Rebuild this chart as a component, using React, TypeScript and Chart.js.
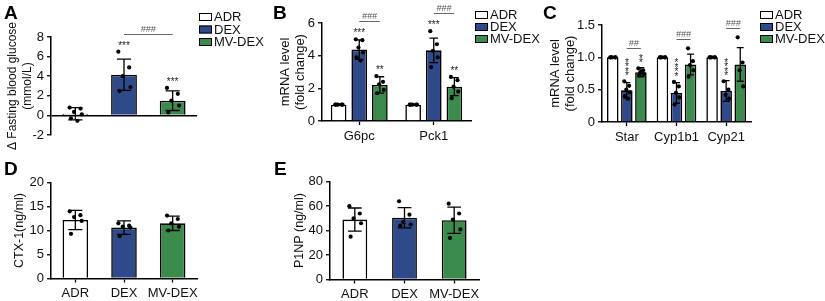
import React, { useEffect, useRef } from 'react';
import { Chart, registerables } from 'chart.js';

Chart.register(...registerables);

const FONT = "'Liberation Sans', Arial, Helvetica, sans-serif";
Chart.defaults.font.family = FONT;
Chart.defaults.font.size = 13;
Chart.defaults.color = '#111';

// ---------- shared series ----------
const groupNames = ['ADR', 'DEX', 'MV-DEX'];
const groupColors = ['#FFFFFF', '#2F4A8A', '#3B8B4C'];

// ---------- Panel A: fasting blood glucose ----------
const labelsA = ['ADR', 'DEX', 'MV-DEX'];
const meanA = [0.17, 4.15, 1.5];
const sdA = [0.63, 1.6, 1.0];
const pointsA = [
  [0.8, 0.7, 0.35, 0.1, -0.3, -0.55],
  [6.5, 4.9, 4.0, 2.9, 2.5],
  [2.8, 2.2, 1.5, 1.0, 0.3],
];
const starsA = ['', '***', '***'];
const hashA = ['###'];

// ---------- Panel B: liver mRNA ----------
const genesB = ['G6pc', 'Pck1'];
const adrMeanB = [1, 1];
const adrSdB = [0.03, 0.03];
const adrPointsB = [[1, 1, 1, 1, 1], [1, 1, 1, 1, 1]];
const dexMeanB = [4.37, 4.33];
const dexSdB = [0.6, 0.75];
const dexPointsB = [[5.0, 4.95, 4.5, 4.2, 3.9, 3.7], [5.5, 4.7, 4.3, 3.9, 3.3]];
const mvMeanB = [2.21, 2.1];
const mvSdB = [0.5, 0.55];
const mvPointsB = [[2.75, 2.4, 2.25, 1.9, 1.7], [2.7, 2.5, 2.1, 1.8, 1.4]];
const dexStarsB = ['***', '***'];
const mvStarsB = ['**', '**'];
const hashB = ['###', '###'];

// ---------- Panel C: adrenal mRNA ----------
const genesC = ['Star', 'Cyp1b1', 'Cyp21'];
const adrMeanC = [1, 1, 1];
const adrSdC = [0.01, 0.01, 0.01];
const adrPointsC = [[1, 1, 1, 1, 1], [1, 1, 1, 1, 1], [1, 1, 1, 1, 1]];
const dexMeanC = [0.49, 0.45, 0.48];
const dexSdC = [0.12, 0.16, 0.16];
const dexPointsC = [
  [0.63, 0.56, 0.5, 0.46, 0.4, 0.36],
  [0.62, 0.55, 0.45, 0.38, 0.27],
  [0.63, 0.5, 0.42, 0.36],
];
const mvMeanC = [0.77, 0.89, 0.89];
const mvSdC = [0.07, 0.16, 0.26];
const mvPointsC = [
  [0.83, 0.8, 0.77, 0.74, 0.72],
  [1.14, 0.94, 0.88, 0.8, 0.7],
  [1.31, 0.92, 0.8, 0.55],
];
const dexStarsC = ['****', '****', '****'];
const mvStarsC = ['**', '', ''];
const hashC = ['##', '###', '###'];

// ---------- Panel D: CTX-1 ----------
const labelsD = ['ADR', 'DEX', 'MV-DEX'];
const meanD = [12.2, 10.6, 11.5];
const sdD = [2.0, 1.4, 1.5];
const pointsD = [
  [14.0, 13.2, 12.8, 12.0, 9.3],
  [11.5, 11.0, 10.8, 10.6, 8.8],
  [13.1, 12.4, 11.5, 10.8, 10.0],
];

// ---------- Panel E: P1NP ----------
const labelsE = ['ADR', 'DEX', 'MV-DEX'];
const meanE = [49, 50.5, 48.5];
const sdE = [9.5, 8.3, 10.7];
const pointsE = [
  [60, 54, 50, 46, 35],
  [64, 53, 47, 45, 44],
  [62, 54, 49, 41, 34],
];

const JITTER = [-0.22, 0.2, -0.05, 0.25, -0.17, 0.08];

const overlayPlugin: any = {
  id: 'overlay',
  afterDatasetsDraw(chart: any, _a: any, o: any) {
    const ctx = chart.ctx;
    const ys = chart.scales.y;
    const info: any[][] = [];
    chart.data.datasets.forEach((ds: any, di: number) => {
      const meta = chart.getDatasetMeta(di);
      info[di] = [];
      meta.data.forEach((el: any, j: number) => {
        const x = el.x;
        const w = el.width;
        const m = ds.data[j];
        const sd = ds.errors[j];
        const yt = ys.getPixelForValue(m + sd);
        const yb = ys.getPixelForValue(m - sd);
        const cap = (w * o.capRatio) / 2;
        ctx.save();
        ctx.strokeStyle = '#000';
        ctx.lineWidth = o.errWidth;
        ctx.beginPath();
        ctx.moveTo(x, yt);
        ctx.lineTo(x, yb);
        ctx.moveTo(x - cap, yt);
        ctx.lineTo(x + cap, yt);
        ctx.moveTo(x - cap, yb);
        ctx.lineTo(x + cap, yb);
        ctx.stroke();
        let top = yt;
        ctx.fillStyle = '#000';
        (ds.points[j] || []).forEach((p: number, k: number) => {
          const py = ys.getPixelForValue(p);
          const px = x + JITTER[k % JITTER.length] * w;
          ctx.beginPath();
          ctx.arc(px, py, o.dotR, 0, Math.PI * 2);
          ctx.fill();
          top = Math.min(top, py - o.dotR);
        });
        let markTop = top;
        const s = ds.stars ? ds.stars[j] : '';
        if (s) {
          ctx.font = `${o.starSize}px ${FONT}`;
          ctx.textAlign = 'center';
          ctx.textBaseline = 'middle';
          ctx.fillStyle = '#222';
          if (o.verticalStars) {
            for (let k = 0; k < s.length; k++) {
              const cy = top - o.starGap - k * o.starStep;
              ctx.fillText('*', x, cy + o.starSize * 0.22);
              markTop = cy - 2;
            }
          } else {
            const cy = top - o.starGap;
            ctx.fillText(s, x, cy + o.starSize * 0.22);
            markTop = cy - 2;
          }
        }
        ctx.restore();
        info[di][j] = { x, top: markTop };
      });
    });
    (o.brackets || []).forEach((b: any) => {
      const A = info[b.a[0]][b.a[1]];
      const B = info[b.b[0]][b.b[1]];
      const ly = Math.round(Math.min(A.top, B.top) - o.bracketGap) + 0.5;
      ctx.save();
      ctx.strokeStyle = '#666';
      ctx.lineWidth = 1;
      ctx.beginPath();
      ctx.moveTo(A.x, ly);
      ctx.lineTo(B.x, ly);
      ctx.stroke();
      ctx.fillStyle = '#555';
      ctx.font = `italic ${o.hashSize}px ${FONT}`;
      ctx.textAlign = 'center';
      ctx.textBaseline = 'alphabetic';
      ctx.fillText(b.text, (A.x + B.x) / 2, ly - 2.5);
      ctx.restore();
    });
  },
  afterDraw(chart: any, _a: any, o: any) {
    const ctx = chart.ctx;
    ctx.save();
    if (o.letter) {
      ctx.font = `bold 19px ${FONT}`;
      ctx.fillStyle = '#000';
      ctx.textAlign = 'left';
      ctx.textBaseline = 'alphabetic';
      ctx.fillText(o.letter.text, o.letter.x, o.letter.y);
    }
    if (o.legend) {
      const L = o.legend;
      groupNames.forEach((name, i) => {
        const cy = L.y0 + i * L.dy;
        ctx.fillStyle = groupColors[i];
        ctx.fillRect(L.x, cy - 4, 13, 8);
        ctx.strokeStyle = '#000';
        ctx.lineWidth = 1;
        ctx.strokeRect(L.x + 0.5, cy - 3.5, 12, 7);
        ctx.fillStyle = '#111';
        ctx.font = `13px ${FONT}`;
        ctx.textAlign = 'left';
        ctx.textBaseline = 'middle';
        ctx.fillText(name, L.x + 15, cy + 0.5);
      });
    }
    ctx.restore();
  },
};

type Spec = {
  left: number; top: number; w: number; h: number;
  area: { left: number; right: number; top: number; bottom: number };
  yMin: number; yMax: number; yStep: number;
  yTitle: string[]; titleX: number; titleSize: number;
  xDisplay: boolean; xH: number; xPad: number;
  zeroLine: boolean;
  catPct: number; barPct: number;
  labels: string[];
  datasets: any[];
  tickFmt?: (v: number) => string;
  overlay: any;
};

function buildConfig(s: Spec): any {
  const lh = s.titleSize * 1.2;
  return {
    type: 'bar',
    data: { labels: s.labels, datasets: s.datasets },
    plugins: [overlayPlugin],
    options: {
      responsive: false,
      animation: false,
      devicePixelRatio: 1,
      events: [],
      layout: {
        padding: {
          left: 0,
          top: s.area.top,
          right: s.w - s.area.right,
          bottom: s.h - s.area.bottom - (s.xDisplay ? s.xH : 0),
        },
      },
      datasets: { bar: { categoryPercentage: s.catPct, barPercentage: s.barPct } },
      plugins: { legend: { display: false }, tooltip: { enabled: false }, overlay: s.overlay },
      scales: {
        x: {
          type: 'category',
          display: s.xDisplay,
          offset: true,
          grid: { display: true, offset: false, drawOnChartArea: false, drawTicks: true, tickLength: 4, tickColor: '#000', tickWidth: 1.3 },
          border: { display: true, color: '#000', width: 1.5 },
          ticks: { padding: s.xPad, color: '#111', font: { size: 13 }, maxRotation: 0, autoSkip: false },
          afterFit: (sc: any) => { sc.height = s.xH; },
        },
        y: {
          min: s.yMin,
          max: s.yMax,
          ticks: {
            stepSize: s.yStep,
            padding: 3,
            color: '#111',
            font: { size: 13 },
            callback: (v: any) => (s.tickFmt ? s.tickFmt(Number(v)) : String(v)),
          },
          grid: {
            drawOnChartArea: s.zeroLine,
            color: (c: any) => (c.tick && c.tick.value === 0 ? '#000' : 'rgba(0,0,0,0)'),
            lineWidth: 1.5,
            tickLength: 4,
            tickColor: '#000',
            tickWidth: 1.3,
          },
          border: { display: true, color: '#000', width: 1.5 },
          title: {
            display: true,
            text: s.yTitle,
            color: '#111',
            font: { size: s.titleSize, lineHeight: 1.2 },
            padding: { top: s.titleX - lh / 2, bottom: 0 },
          },
          afterFit: (sc: any) => { sc.width = s.area.left; },
        },
      },
    },
  };
}

const common = { capRatio: 0.55, errWidth: 1.3, dotR: 2.1, starSize: 10, starGap: 6, starStep: 4.5, bracketGap: 8, hashSize: 9 };

const singleDataset = (means: number[], sds: number[], pts: number[][], stars?: string[]) => ({
  data: means,
  errors: sds,
  points: pts,
  stars,
  backgroundColor: groupColors,
  borderColor: '#000',
  borderWidth: 1.6,
});

const groupedDatasets = (
  means: number[][], sds: number[][], pts: number[][][], stars: (string[] | undefined)[]
) => groupNames.map((name, i) => ({
  label: name,
  data: means[i],
  errors: sds[i],
  points: pts[i],
  stars: stars[i],
  backgroundColor: groupColors[i],
  borderColor: '#000',
  borderWidth: 1.6,
}));

const specs: Spec[] = [
  {
    left: 0, top: 0, w: 270, h: 150,
    area: { left: 51, right: 197, top: 37, bottom: 135 },
    yMin: -2, yMax: 8, yStep: 2,
    yTitle: ['\u0394 Fasting blood glucose', '(mmol/L)'], titleX: 13, titleSize: 12,
    xDisplay: false, xH: 0, xPad: 3, zeroLine: true,
    catPct: 1, barPct: 0.53,
    labels: labelsA,
    datasets: [singleDataset(meanA, sdA, pointsA, starsA)],
    overlay: {
      ...common,
      brackets: hashA.map((t) => ({ a: [0, 1], b: [0, 2], text: t })),
      letter: { text: 'A', x: 4, y: 19 },
      legend: { x: 199, y0: 17, dy: 12.5 },
    },
  },
  {
    left: 270, top: 0, w: 270, h: 150,
    area: { left: 52, right: 201, top: 23, bottom: 121 },
    yMin: 0, yMax: 6, yStep: 2,
    yTitle: ['mRNA level', '(fold change)'], titleX: 15, titleSize: 13,
    xDisplay: true, xH: 26, xPad: 4, zeroLine: false,
    catPct: 0.83, barPct: 0.76,
    labels: genesB,
    datasets: groupedDatasets(
      [adrMeanB, dexMeanB, mvMeanB], [adrSdB, dexSdB, mvSdB],
      [adrPointsB, dexPointsB, mvPointsB], [undefined, dexStarsB, mvStarsB]
    ),
    overlay: {
      ...common,
      brackets: hashB.map((t, j) => ({ a: [1, j], b: [2, j], text: t })),
      letter: { text: 'B', x: 3, y: 19 },
      legend: { x: 205, y0: 15, dy: 12 },
    },
  },
  {
    left: 540, top: 0, w: 285, h: 150,
    area: { left: 62, right: 211, top: 25, bottom: 122 },
    yMin: 0, yMax: 1.5, yStep: 0.5,
    yTitle: ['mRNA level', '(fold change)'], titleX: 15, titleSize: 13,
    xDisplay: true, xH: 26, xPad: 4, zeroLine: false,
    catPct: 0.85, barPct: 0.82,
    labels: genesC,
    tickFmt: (v: number) => (v === 0 ? '0' : v.toFixed(1)),
    datasets: groupedDatasets(
      [adrMeanC, dexMeanC, mvMeanC], [adrSdC, dexSdC, mvSdC],
      [adrPointsC, dexPointsC, mvPointsC], [undefined, dexStarsC, mvStarsC]
    ),
    overlay: {
      ...common,
      capRatio: 0.6,
      starGap: 5,
      verticalStars: true,
      bracketGap: 7,
      brackets: hashC.map((t, j) => ({ a: [1, j], b: [2, j], text: t })),
      letter: { text: 'C', x: 3, y: 19 },
      legend: { x: 220, y0: 15, dy: 12 },
    },
  },
  {
    left: 0, top: 150, w: 270, h: 151,
    area: { left: 51, right: 197, top: 32.5, bottom: 128.5 },
    yMin: 0, yMax: 20, yStep: 5,
    yTitle: ['CTX-1(ng/ml)'], titleX: 20, titleSize: 12.5,
    xDisplay: true, xH: 22, xPad: 3, zeroLine: false,
    catPct: 1, barPct: 0.525,
    labels: labelsD,
    datasets: [singleDataset(meanD, sdD, pointsD)],
    overlay: { ...common, brackets: [], letter: { text: 'D', x: 4, y: 25 } },
  },
  {
    left: 270, top: 150, w: 270, h: 151,
    area: { left: 60, right: 209, top: 31.7, bottom: 129.5 },
    yMin: 0, yMax: 80, yStep: 20,
    yTitle: ['P1NP (ng/ml)'], titleX: 30, titleSize: 12.5,
    xDisplay: true, xH: 21, xPad: 3, zeroLine: false,
    catPct: 1, barPct: 0.5,
    labels: labelsE,
    datasets: [singleDataset(meanE, sdE, pointsE)],
    overlay: { ...common, brackets: [], letter: { text: 'E', x: 4, y: 25 } },
  },
];

function Panel({ spec }: { spec: Spec }) {
  const ref = useRef<HTMLCanvasElement>(null);
  useEffect(() => {
    const chart = new Chart(ref.current as HTMLCanvasElement, buildConfig(spec));
    return () => chart.destroy();
  }, [spec]);
  return (
    <canvas
      ref={ref}
      width={spec.w}
      height={spec.h}
      style={{ position: 'absolute', left: spec.left, top: spec.top, width: spec.w, height: spec.h }}
    />
  );
}

export default function App() {
  return (
    <div style={{ position: 'absolute', left: 0, top: 0, width: 825, height: 301, background: '#fff', overflow: 'hidden' }}>
      {specs.map((s, i) => (
        <Panel key={i} spec={s} />
      ))}
    </div>
  );
}
